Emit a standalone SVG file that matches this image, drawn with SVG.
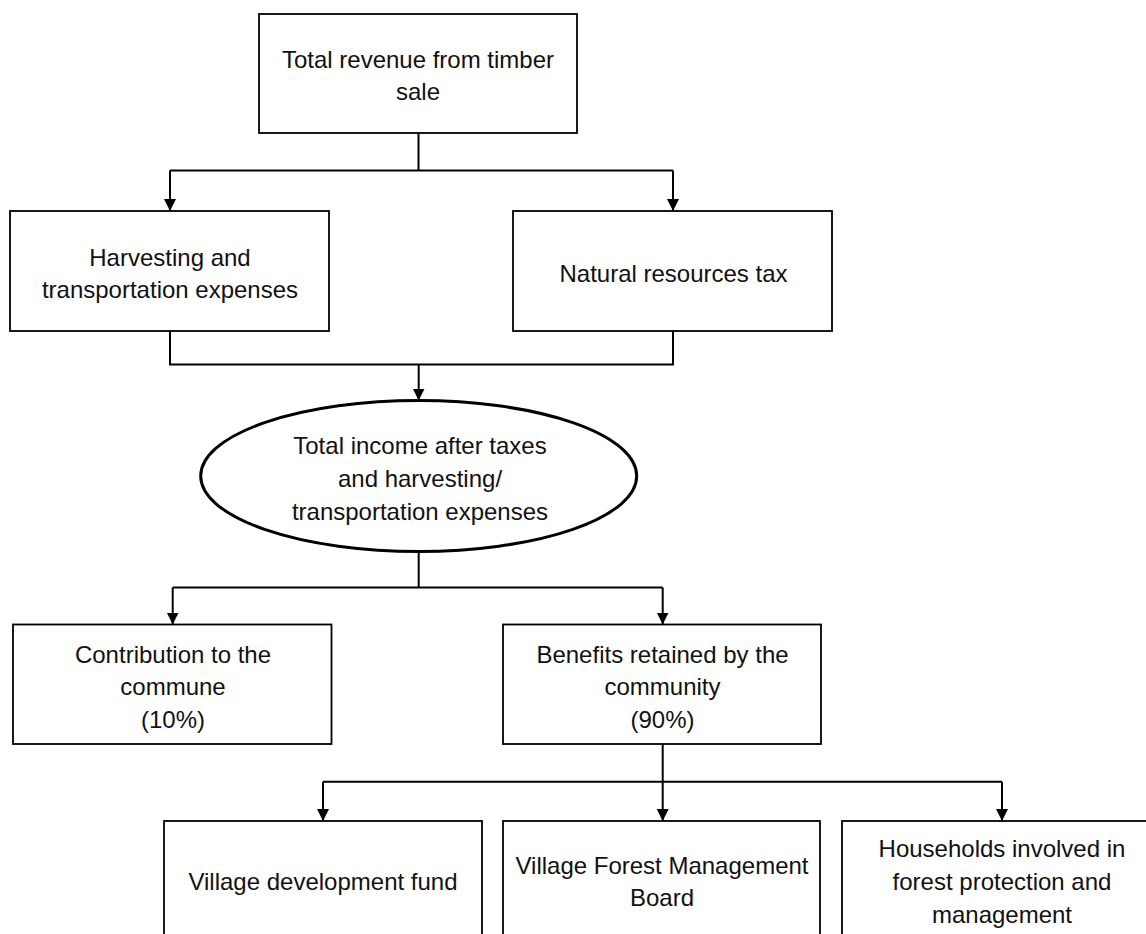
<svg xmlns="http://www.w3.org/2000/svg" width="1146" height="934" viewBox="0 0 1146 934">
  <style>
    .box { fill: #ffffff; stroke: #000000; stroke-width: 1.8; }
    .oval { fill: #ffffff; stroke: #000000; stroke-width: 3; }
    .lbl { font-family: "Liberation Sans", Arial, sans-serif; font-size: 24px; fill: #111111; text-anchor: middle; }
    .con { fill: none; stroke: #000000; stroke-width: 2; }
    .arr { fill: none; stroke: #000000; stroke-width: 2; marker-end: url(#ah); }
  </style>
  <defs>
    <marker id="ah" markerUnits="userSpaceOnUse" markerWidth="12" markerHeight="12" refX="12" refY="6" orient="auto" viewBox="0 0 12 12">
      <path d="M0,0 L12,6 L0,12 z" fill="#000000"/>
    </marker>
  </defs>
  <rect width="1146" height="934" fill="#ffffff"/>

  <g id="connectors">
    <path class="con" d="M418.5,133 V170.5 M170,170.5 H673"/>
    <path class="arr" d="M170,170.5 V211"/>
    <path class="arr" d="M673,170.5 V211"/>
    <path class="con" d="M170,331 V364.5 H673 V331"/>
    <path class="arr" d="M418.7,364.5 V400.5"/>
    <path class="con" d="M418.7,552 V587.5 M172.7,587.5 H662.7"/>
    <path class="arr" d="M172.7,587.5 V624.5"/>
    <path class="arr" d="M662.7,587.5 V624.5"/>
    <path class="arr" d="M662.7,744 V821"/>
    <path class="con" d="M323,781.7 H1002"/>
    <path class="arr" d="M323,781.7 V821"/>
    <path class="arr" d="M1002,781.7 V821"/>
  </g>

  <g id="node-total-revenue">
    <rect class="box" x="259" y="14" width="318" height="119"/>
    <text class="lbl" x="418" y="67.7">Total revenue from timber</text>
    <text class="lbl" x="418" y="100">sale</text>
  </g>
  <g id="node-harvesting">
    <rect class="box" x="10" y="211" width="319" height="120"/>
    <text class="lbl" x="170" y="266">Harvesting and</text>
    <text class="lbl" x="170" y="298.3">transportation expenses</text>
  </g>
  <g id="node-tax">
    <rect class="box" x="513" y="211" width="319" height="120"/>
    <text class="lbl" x="673.5" y="281.7">Natural resources tax</text>
  </g>
  <g id="node-total-income">
    <ellipse class="oval" cx="418.7" cy="476" rx="218" ry="75.5"/>
    <text class="lbl" x="420" y="454">Total income after taxes</text>
    <text class="lbl" x="420" y="486.7">and harvesting/</text>
    <text class="lbl" x="420" y="520">transportation expenses</text>
  </g>
  <g id="node-commune">
    <rect class="box" x="13" y="624.5" width="318.5" height="119.5"/>
    <text class="lbl" x="173" y="662.7">Contribution to the</text>
    <text class="lbl" x="173" y="695">commune</text>
    <text class="lbl" x="173" y="728.3">(10%)</text>
  </g>
  <g id="node-community">
    <rect class="box" x="503" y="624.5" width="318" height="119.5"/>
    <text class="lbl" x="662.5" y="662.7">Benefits retained by the</text>
    <text class="lbl" x="662.5" y="695">community</text>
    <text class="lbl" x="662.5" y="728.3">(90%)</text>
  </g>
  <g id="node-vdf">
    <rect class="box" x="164" y="821" width="318" height="140"/>
    <text class="lbl" x="323" y="890">Village development fund</text>
  </g>
  <g id="node-vfmb">
    <rect class="box" x="503" y="821" width="317" height="140"/>
    <text class="lbl" x="662" y="873.7">Village Forest Management</text>
    <text class="lbl" x="662" y="906">Board</text>
  </g>
  <g id="node-households">
    <rect class="box" x="842" y="821" width="320" height="140"/>
    <text class="lbl" x="1002" y="857.3">Households involved in</text>
    <text class="lbl" x="1002" y="890">forest protection and</text>
    <text class="lbl" x="1002" y="922.7">management</text>
  </g>
</svg>
